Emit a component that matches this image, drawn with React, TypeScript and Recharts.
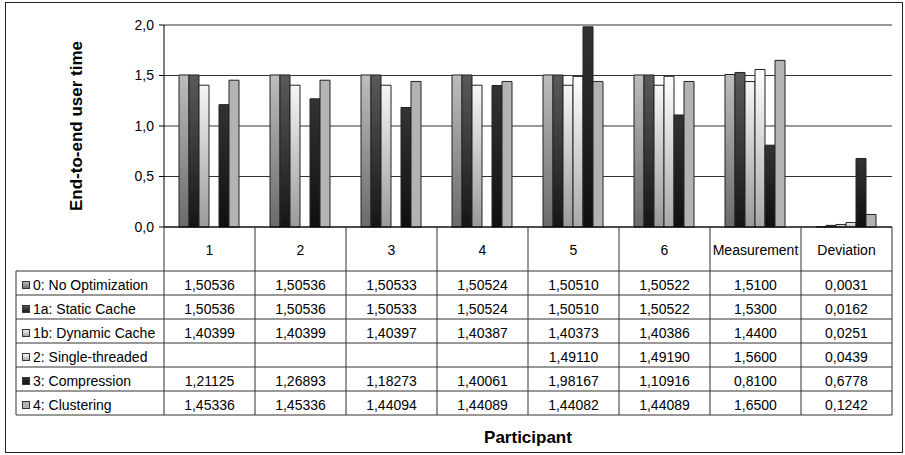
import { BarChart, Bar, XAxis, YAxis, CartesianGrid } from 'recharts';

const categories = ['1', '2', '3', '4', '5', '6', 'Measurement', 'Deviation'];
const seriesNames = [
  '0: No Optimization',
  '1a: Static Cache',
  '1b: Dynamic Cache',
  '2: Single-threaded',
  '3: Compression',
  '4: Clustering',
];
const noOptimization = [1.50536, 1.50536, 1.50533, 1.50524, 1.5051, 1.50522, 1.51, 0.0031];
const staticCache = [1.50536, 1.50536, 1.50533, 1.50524, 1.5051, 1.50522, 1.53, 0.0162];
const dynamicCache = [1.40399, 1.40399, 1.40397, 1.40387, 1.40373, 1.40386, 1.44, 0.0251];
const singleThreaded = [null, null, null, null, 1.4911, 1.4919, 1.56, 0.0439];
const compression = [1.21125, 1.26893, 1.18273, 1.40061, 1.98167, 1.10916, 0.81, 0.6778];
const clustering = [1.45336, 1.45336, 1.44094, 1.44089, 1.44082, 1.44089, 1.65, 0.1242];
const yTicks = [0, 0.5, 1, 1.5, 2];

const seriesValues = [noOptimization, staticCache, dynamicCache, singleThreaded, compression, clustering];
const keys = ['s0', 's1', 's2', 's3', 's4', 's5'];
const fills = ['url(#g0)', 'url(#g1)', 'url(#g2)', 'url(#g3)', 'url(#g4)', '#b3b3b3'];

const data = categories.map((c, i) => {
  const row: Record<string, any> = { cat: c };
  keys.forEach((k, s) => { row[k] = seriesValues[s][i]; });
  return row;
});

const FONT = '"Liberation Sans", Arial, sans-serif';
const colW = 91;
const headH = 44;
const rowH = 24;
const lineColor = '#333';

const fmt = (v: number | null, i: number) => {
  if (v == null) return '';
  return v.toFixed(i >= 6 ? 4 : 5).replace('.', ',');
};

const TableTick = (props: any) => {
  const { x, y, payload } = props;
  const i = payload.index;
  const left = x - colW / 2;
  const right = x + colW / 2;
  const bottom = y + headH + rowH * seriesNames.length;
  return (
    <g fontFamily={FONT}>
      {i === 0 && (
        <g>
          <line x1={left} y1={y} x2={left} y2={bottom} stroke={lineColor} />
          <line x1={16} y1={y + headH} x2={16} y2={bottom} stroke={lineColor} />
          {seriesNames.map((n, s) => (
            <g key={n}>
              <line x1={16} y1={y + headH + rowH * s} x2={left} y2={y + headH + rowH * s} stroke={lineColor} />
              <rect x={22.5} y={y + headH + rowH * s + 10.5} width={7} height={7} fill={fills[s]} stroke="#333" />
              <text x={33} y={y + headH + rowH * s + 19} fontSize={14} fill="#000">{n}</text>
            </g>
          ))}
          <line x1={16} y1={bottom} x2={left} y2={bottom} stroke={lineColor} />
        </g>
      )}
      <line x1={right} y1={y} x2={right} y2={bottom} stroke={lineColor} />
      <text x={x} y={y + 28} textAnchor="middle" fontSize={14} fill="#000">{payload.value}</text>
      {seriesNames.map((n, s) => (
        <g key={n}>
          <line x1={left} y1={y + headH + rowH * s} x2={right} y2={y + headH + rowH * s} stroke={lineColor} />
          <text x={x} y={y + headH + rowH * s + 19} textAnchor="middle" fontSize={14} fill="#000">
            {fmt(seriesValues[s][i], i)}
          </text>
        </g>
      ))}
      <line x1={left} y1={bottom} x2={right} y2={bottom} stroke={lineColor} />
    </g>
  );
};

export default function App() {
  return (
    <div style={{ position: 'absolute', left: 0, top: 0, width: 905, height: 455, background: '#fff', fontFamily: FONT }}>
      <svg width={905} height={455} style={{ position: 'absolute', left: 0, top: 0 }}>
        <rect x={5.5} y={2.5} width={897} height={450} fill="#fff" stroke="#222" />
      </svg>
      <div style={{ position: 'absolute', left: 0, top: 0 }}>
        <BarChart
          width={905}
          height={455}
          data={data}
          margin={{ top: 25, right: 13, bottom: 40, left: 4 }}
          barCategoryGap={15}
          barGap={0}
        >
          <defs>
            <linearGradient id="g0" x1="0" y1="0" x2="0" y2="1">
              <stop offset="0%" stopColor="#bdbdbd" />
              <stop offset="100%" stopColor="#6a6a6a" />
            </linearGradient>
            <linearGradient id="g1" x1="0" y1="0" x2="0" y2="1">
              <stop offset="0%" stopColor="#5a5a5a" />
              <stop offset="100%" stopColor="#151515" />
            </linearGradient>
            <linearGradient id="g2" x1="0" y1="0" x2="0" y2="1">
              <stop offset="0%" stopColor="#f6f6f6" />
              <stop offset="100%" stopColor="#9a9a9a" />
            </linearGradient>
            <linearGradient id="g3" x1="0" y1="0" x2="0" y2="1">
              <stop offset="0%" stopColor="#ffffff" />
              <stop offset="100%" stopColor="#a8a8a8" />
            </linearGradient>
            <linearGradient id="g4" x1="0" y1="0" x2="0" y2="1">
              <stop offset="0%" stopColor="#333333" />
              <stop offset="100%" stopColor="#0f0f0f" />
            </linearGradient>
          </defs>
          <CartesianGrid vertical={false} stroke="#333" strokeDasharray="" />
          <YAxis
            width={160}
            domain={[0, 2]}
            ticks={yTicks}
            interval={0}
            tickFormatter={(v: number) => v.toFixed(1).replace('.', ',')}
            tick={{ fontSize: 14, fill: '#000', fontFamily: FONT }}
            tickSize={5}
            tickMargin={5}
            axisLine={{ stroke: '#000' }}
            tickLine={{ stroke: '#000' }}
            label={{
              value: 'End-to-end user time',
              angle: -90,
              position: 'insideLeft',
              offset: 72,
              style: { fontSize: 17, fontWeight: 'bold', fill: '#000', fontFamily: FONT, textAnchor: 'middle' },
            }}
          />
          <XAxis
            dataKey="cat"
            height={188}
            interval={0}
            tickSize={0}
            tickMargin={0}
            axisLine={{ stroke: '#000' }}
            tick={<TableTick />}
            label={{
              value: 'Participant',
              position: 'insideBottom',
              offset: -28,
              style: { fontSize: 17, fontWeight: 'bold', fill: '#000', fontFamily: FONT },
            }}
          />
          {keys.map((k, s) => (
            <Bar key={k} dataKey={k} fill={fills[s]} stroke="#222" strokeWidth={1} isAnimationActive={false} />
          ))}
        </BarChart>
      </div>
    </div>
  );
}
